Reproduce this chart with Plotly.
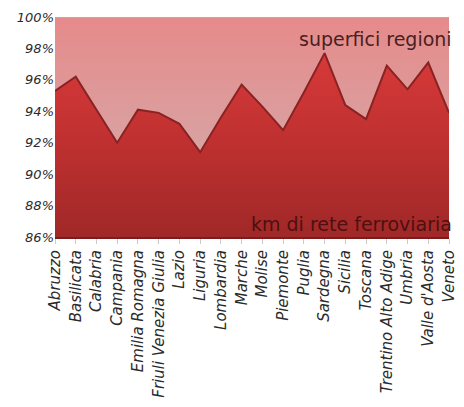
import plotly.graph_objects as go

regions = ["Abruzzo", "Basilicata", "Calabria", "Campania", "Emilia Romagna",
           "Friuli Venezia Giulia", "Lazio", "Liguria", "Lombardia", "Marche",
           "Molise", "Piemonte", "Puglia", "Sardegna", "Sicilia", "Toscana",
           "Trentino Alto Adige", "Umbria", "Valle d'Aosta", "Veneto"]
km_rete = [95.3, 96.2, 94.1, 92.0, 94.1, 93.9, 93.2, 91.4, 93.6, 95.7,
           94.3, 92.8, 95.2, 97.7, 94.4, 93.5, 96.9, 95.4, 97.1, 93.9]
superfici = [100 - v for v in km_rete]

font_fam = "DejaVu Sans"

fig = go.Figure()
fig.add_trace(go.Scatter(
    x=regions, y=km_rete, stackgroup="one", mode="lines",
    line=dict(color="#8a2222", width=2),
    fillgradient=dict(type="vertical", start=86, stop=98,
                      colorscale=[[0, "#a02828"], [0.5, "#bf3030"], [1, "#d83a3a"]]),
    name="km di rete ferroviaria", hoverinfo="x+y",
))
fig.add_trace(go.Scatter(
    x=regions, y=superfici, stackgroup="one", mode="lines",
    line=dict(color="#eaa0a0", width=1),
    fillgradient=dict(type="vertical", start=91, stop=100,
                      colorscale=[[0, "#d8a4a4"], [1, "#e68a8a"]]),
    name="superfici regioni",
))

fig.add_annotation(text="superfici regioni", xref="paper", yref="paper",
                   x=1.0, y=0.96, xanchor="right", yanchor="top", xshift=5,
                   showarrow=False,
                   font=dict(family=font_fam, size=19, color="#4a2020"))
fig.add_annotation(text="km di rete ferroviaria", xref="paper", yref="paper",
                   x=1.0, y=0.0, xanchor="right", yanchor="bottom", xshift=5,
                   showarrow=False,
                   font=dict(family=font_fam, size=19, color="#4e1010"))

fig.update_layout(
    width=464, height=407,
    margin=dict(l=55, r=6, t=17, b=170),
    paper_bgcolor="white", plot_bgcolor="white",
    showlegend=False,
    font=dict(family=font_fam, color="#333333"),
)
fig.update_xaxes(
    range=[0, 19], tickangle=-90, showgrid=False, zeroline=False,
    showline=True, linecolor="#7a1c1c", linewidth=2,
    ticks="outside", ticklen=5, tickcolor="#cccccc",
    tickfont=dict(family=font_fam, size=15, color="#2a2a2a", style="italic"),
)
fig.update_yaxes(
    range=[86, 100], dtick=2, ticksuffix="%", showgrid=False, zeroline=False,
    showline=False,
    tickfont=dict(family=font_fam, size=13, color="#2a2a2a", style="italic"),
)

fig.write_html("out.html")
